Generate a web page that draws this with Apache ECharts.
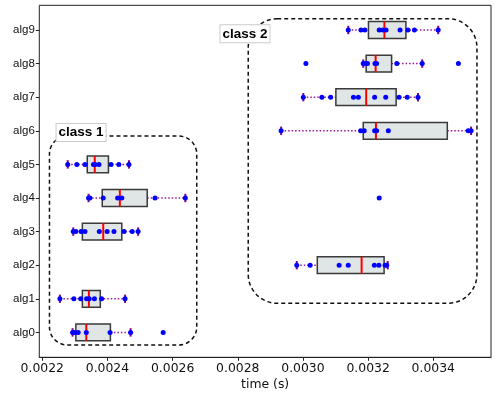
<!DOCTYPE html>
<html>
<head>
<meta charset="utf-8">
<script src="https://cdn.jsdelivr.net/npm/echarts@6/dist/echarts.min.js"></script>
<style>
html, body { margin: 0; padding: 0; background: #fff; }
#main { width: 498px; height: 399px; }
</style>
</head>
<body>
<div id="main"></div>
<script>
var categories = ['alg0', 'alg1', 'alg2', 'alg3', 'alg4', 'alg5', 'alg6', 'alg7', 'alg8', 'alg9'];
// box stats (seconds)
var whiskerLow  = [0.002293, 0.002254, 0.002981, 0.002295, 0.002342, 0.002278, 0.002933, 0.003001, 0.003185, 0.003139];
var quart1      = [0.002303, 0.002323, 0.003044, 0.002323, 0.002384, 0.002338, 0.003185, 0.003101, 0.003194, 0.003201];
var medians     = [0.002335, 0.002343, 0.003180, 0.002387, 0.002438, 0.002361, 0.003224, 0.003194, 0.003223, 0.003250];
var quart3      = [0.002409, 0.002378, 0.003249, 0.002444, 0.002522, 0.002403, 0.003443, 0.003286, 0.003272, 0.003316];
var whiskerHigh = [0.002471, 0.002454, 0.003260, 0.002494, 0.002639, 0.002466, 0.003516, 0.003353, 0.003366, 0.003415];
// individual runs
var points = [
    [0.002293, 0.002300, 0.002310, 0.002335, 0.002408, 0.002471, 0.002571],
    [0.002254, 0.002297, 0.002318, 0.002336, 0.002344, 0.002360, 0.002382, 0.002454],
    [0.002981, 0.003022, 0.003111, 0.003139, 0.003219, 0.003233, 0.003252, 0.003257],
    [0.002295, 0.002303, 0.002319, 0.002331, 0.002375, 0.002399, 0.002420, 0.002451, 0.002476, 0.002494],
    [0.002342, 0.002346, 0.002387, 0.002431, 0.002444, 0.002546, 0.002639, 0.003234],
    [0.002278, 0.002306, 0.002331, 0.002357, 0.002362, 0.002374, 0.002411, 0.002435, 0.002466],
    [0.002933, 0.003177, 0.003188, 0.003220, 0.003226, 0.003262, 0.003507, 0.003516],
    [0.003001, 0.003058, 0.003085, 0.003155, 0.003170, 0.003220, 0.003254, 0.003295, 0.003320, 0.003353],
    [0.003009, 0.003185, 0.003190, 0.003198, 0.003221, 0.003226, 0.003288, 0.003366, 0.003477],
    [0.003139, 0.003178, 0.003190, 0.003234, 0.003245, 0.003255, 0.003298, 0.003322, 0.003342, 0.003415]
];
var xTicks = [0.0022, 0.0024, 0.0026, 0.0028, 0.0030, 0.0032, 0.0034];
// class regions: [xmin, xmax, ymin, ymax] in axis units, label [x, y]
var class1Box = [0.002222, 0.002674, -0.375, 5.845];
var class2Box = [0.002832, 0.003534, 0.866, 9.336];
var class1Label = [0.002319, 5.95];
var class2Label = [0.002822, 8.887];

var xMin = 0.0021908, xMax = 0.0035771;

var boxData = categories.map(function (c, i) {
    return [i, whiskerLow[i], quart1[i], medians[i], quart3[i], whiskerHigh[i]];
});
var dotData = [];
points.forEach(function (row, i) {
    row.forEach(function (v) { dotData.push([v, i]); });
});

var chart = echarts.init(document.getElementById('main'), null, { renderer: 'canvas' });

function yPix(api, frac) {
    var y0 = api.coord([xMin, 0])[1];
    var band = api.size([0, 1])[1];
    return y0 - frac * band;
}

var option = {
    animation: false,
    grid: [
        { left: 39.3, right: 7, top: 5.3, bottom: 41.7, show: true, borderColor: '#222', borderWidth: 1, backgroundColor: 'transparent' },
        { left: 39.3, right: 7, top: 13.2, bottom: 49.8 }
    ],
    xAxis: [{
        gridIndex: 0, type: 'value', min: xMin, max: xMax,
        name: 'time (s)', nameLocation: 'middle', nameGap: 19,
        nameTextStyle: { fontFamily: 'DejaVu Sans', fontSize: 12.4, color: '#111' },
        axisLine: { show: true, lineStyle: { color: '#222', width: 1 } },
        axisTick: { show: true, length: 3.5, customValues: xTicks, lineStyle: { color: '#222' } },
        axisLabel: { customValues: xTicks, margin: 5, fontFamily: 'DejaVu Sans', fontSize: 12.4, color: '#111',
            formatter: function (v) { return v.toFixed(4); } },
        splitLine: { show: false }
    }, {
        gridIndex: 1, type: 'value', min: xMin, max: xMax, show: false
    }],
    yAxis: [{
        gridIndex: 0, type: 'value', show: false
    }, {
        gridIndex: 1, type: 'category', data: categories,
        axisLine: { show: false },
        axisTick: { show: true, length: 3.5, alignWithLabel: true, lineStyle: { color: '#222' } },
        axisLabel: { margin: 4.5, fontFamily: 'Liberation Sans', fontSize: 11.5, color: '#111' },
        splitLine: { show: false }
    }],
    series: [{
        type: 'custom', name: 'classes', xAxisIndex: 1, yAxisIndex: 1, silent: true, clip: false,
        data: [class1Box.concat(class1Label, [18]), class2Box.concat(class2Label, [29])],
        encode: { x: [0, 1] },
        renderItem: function (params, api) {
            var p1 = api.coord([api.value(0), 0]);
            var p2 = api.coord([api.value(1), 0]);
            var top = yPix(api, api.value(3));
            var bottom = yPix(api, api.value(2));
            var lx = api.coord([api.value(4), 0])[0];
            var ly = yPix(api, api.value(5));
            var name = params.dataIndex === 0 ? 'class 1' : 'class 2';
            return {
                type: 'group',
                children: [{
                    type: 'rect',
                    shape: { x: p1[0], y: top, width: p2[0] - p1[0], height: bottom - top, r: api.value(6) },
                    style: { fill: 'none', stroke: '#111', lineWidth: 1.5, lineDash: [4, 3] }
                }, {
                    type: 'text', x: lx, y: ly,
                    style: {
                        text: name, font: 'bold 13.5px "Liberation Sans"', fill: '#000',
                        align: 'center', verticalAlign: 'middle',
                        backgroundColor: '#fff', borderColor: '#ccc', borderWidth: 1,
                        padding: [2, 2, 1, 2]
                    }
                }]
            };
        }
    }, {
        type: 'custom', name: 'boxes', xAxisIndex: 1, yAxisIndex: 1, silent: true,
        data: boxData,
        encode: { y: 0, x: [1, 2, 3, 4, 5] },
        renderItem: function (params, api) {
            var idx = api.value(0);
            var band = api.size([0, 1])[1];
            var lo = api.coord([api.value(1), idx]);
            var b1 = api.coord([api.value(2), idx]);
            var b3 = api.coord([api.value(4), idx]);
            var hi = api.coord([api.value(5), idx]);
            var cy = lo[1];
            var hb = band * 0.25, hc = band * 0.125;
            var wStyle = { stroke: '#9a1a9a', lineWidth: 1.5, lineDash: [1.5, 2] };
            var cStyle = { stroke: '#8a008a', lineWidth: 2 };
            return {
                type: 'group',
                children: [
                    { type: 'line', shape: { x1: lo[0], y1: cy, x2: b1[0], y2: cy }, style: wStyle },
                    { type: 'line', shape: { x1: b3[0], y1: cy, x2: hi[0], y2: cy }, style: wStyle },
                    { type: 'rect', shape: { x: b1[0], y: cy - hb, width: b3[0] - b1[0], height: hb * 2 },
                      style: { fill: '#dfe6e5', stroke: '#3a3a3a', lineWidth: 1.5 } },
                    { type: 'line', shape: { x1: lo[0], y1: cy - hc, x2: lo[0], y2: cy + hc }, style: cStyle },
                    { type: 'line', shape: { x1: hi[0], y1: cy - hc, x2: hi[0], y2: cy + hc }, style: cStyle }
                ]
            };
        }
    }, {
        type: 'scatter', name: 'runs', xAxisIndex: 1, yAxisIndex: 1, silent: true,
        data: dotData, symbolSize: 5,
        itemStyle: { color: '#0000ff', opacity: 1 }
    }, {
        type: 'custom', name: 'medians', xAxisIndex: 1, yAxisIndex: 1, silent: true,
        data: boxData,
        encode: { y: 0, x: 3 },
        renderItem: function (params, api) {
            var idx = api.value(0);
            var band = api.size([0, 1])[1];
            var m = api.coord([api.value(3), idx]);
            var hb = band * 0.25;
            return {
                type: 'line',
                shape: { x1: m[0], y1: m[1] - hb, x2: m[0], y2: m[1] + hb },
                style: { stroke: '#ff0000', lineWidth: 2 }
            };
        }
    }]
};

chart.setOption(option);
</script>
</body>
</html>
